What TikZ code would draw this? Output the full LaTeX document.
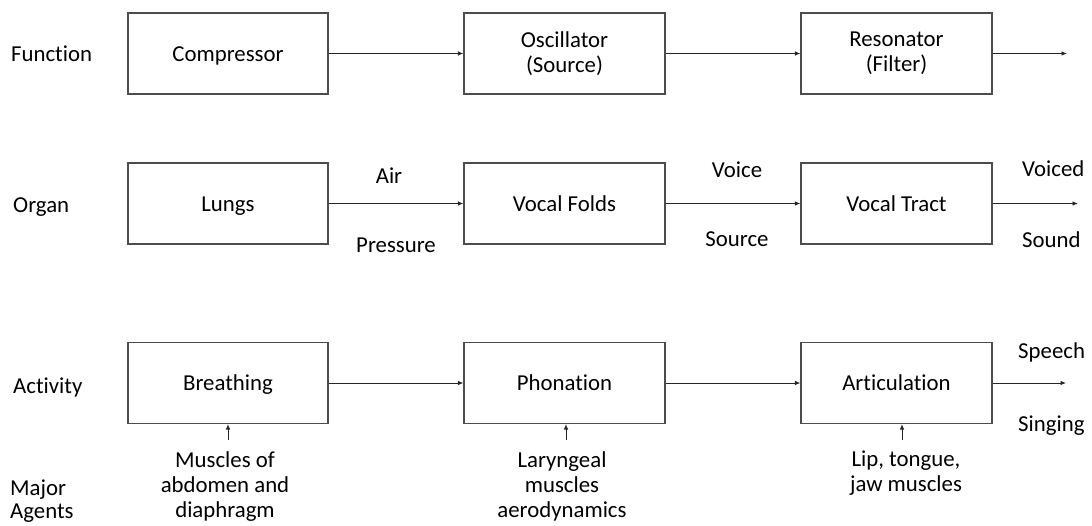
\documentclass[tikz,border=0pt]{standalone}
\usepackage{fontspec}
\setmainfont{Carlito}[Ligatures={NoCommon,NoRare,NoDiscretionary}]
\usetikzlibrary{arrows.meta}

\begin{document}
\begin{tikzpicture}[x=1pt, y=-1pt,
  every node/.style={font=\fontsize{22.8}{25}\selectfont, text=black, inner sep=0pt},
  block/.style={draw=black!70, line width=1.1pt, minimum height=81pt, align=center},
  oneline/.style={text height=15pt, text depth=0pt},
  arr/.style={draw=black!85, line width=0.9pt, -{Latex[length=5.5pt,width=4.5pt]}},
  lbl/.style={anchor=base},
  side/.style={anchor=base west}
]
\useasboundingbox (0,0) rectangle (1092,525);

% row titles
\node[side] (tfun) at (11,61)  {Function};
\node[side] (torg) at (13,212) {Organ};
\node[side] (tact) at (13,393) {Activity};
\node[side] (tmaj) at (10,495) {Major};
\node[side] (tage) at (10,518) {Agents};

% function row
\node[block, oneline, minimum width=200pt] (comp) at (228,53.5)   {Compressor};
\node[block, minimum width=201pt]          (osc)  at (564.5,53.5) {Oscillator\\(Source)};
\node[block, minimum width=191pt]          (res)  at (896.5,53.5) {Resonator\\(Filter)};

% organ row
\node[block, oneline, minimum width=200pt] (lungs) at (228,203.5)   {Lungs};
\node[block, oneline, minimum width=201pt] (folds) at (564.5,203.5) {Vocal Folds};
\node[block, oneline, minimum width=191pt] (tract) at (896.5,203.5) {Vocal Tract};

% activity row
\node[block, oneline, minimum width=200pt] (breath) at (228,383)   {Breathing};
\node[block, oneline, minimum width=201pt] (phon)   at (564.5,383) {Phonation};
\node[block, oneline, minimum width=191pt] (artic)  at (896.5,383) {Articulation};

% free ends of the output arrows
\coordinate (out1) at (1067,53.5);
\coordinate (out2) at (1078,203.5);
\coordinate (out3) at (1066,383);

% connectors
\draw[arr] (comp) -- (osc);
\draw[arr] (osc) -- (res);
\draw[arr] (res) -- (out1);
\draw[arr] (lungs) -- (folds);
\draw[arr] (folds) -- (tract);
\draw[arr] (tract) -- (out2);
\draw[arr] (breath) -- (phon);
\draw[arr] (phon) -- (artic);
\draw[arr] (artic) -- (out3);

% signal labels
\node[lbl] (air)    at (389,183) {Air};
\node[lbl] (press)  at (396,252) {Pressure};
\node[lbl] (voice)  at (737,177) {Voice};
\node[lbl] (vsrc)   at (737,246) {Source};
\node[side] (voiced) at (1022,176) {Voiced};
\node[side] (sound)  at (1022,247) {Sound};
\node[side] (speech) at (1018,358) {Speech};
\node[side] (sing)   at (1018,431) {Singing};

% major agents
\node[anchor=north, align=center] (ag1) at (225,451) {Muscles of\\abdomen and\\diaphragm};
\node[anchor=north, align=center] (ag2) at (562,451) {Laryngeal\\muscles\\aerodynamics};
\node[anchor=north, align=center] (ag3) at (906,451) {Lip, tongue,\\jaw muscles};

\coordinate (up1) at (228,439.5);
\coordinate (up2) at (566,439.5);
\coordinate (up3) at (902,439.5);
\draw[arr] (up1) -- (up1 |- breath.south);
\draw[arr] (up2) -- (up2 |- phon.south);
\draw[arr] (up3) -- (up3 |- artic.south);
\end{tikzpicture}
\end{document}
